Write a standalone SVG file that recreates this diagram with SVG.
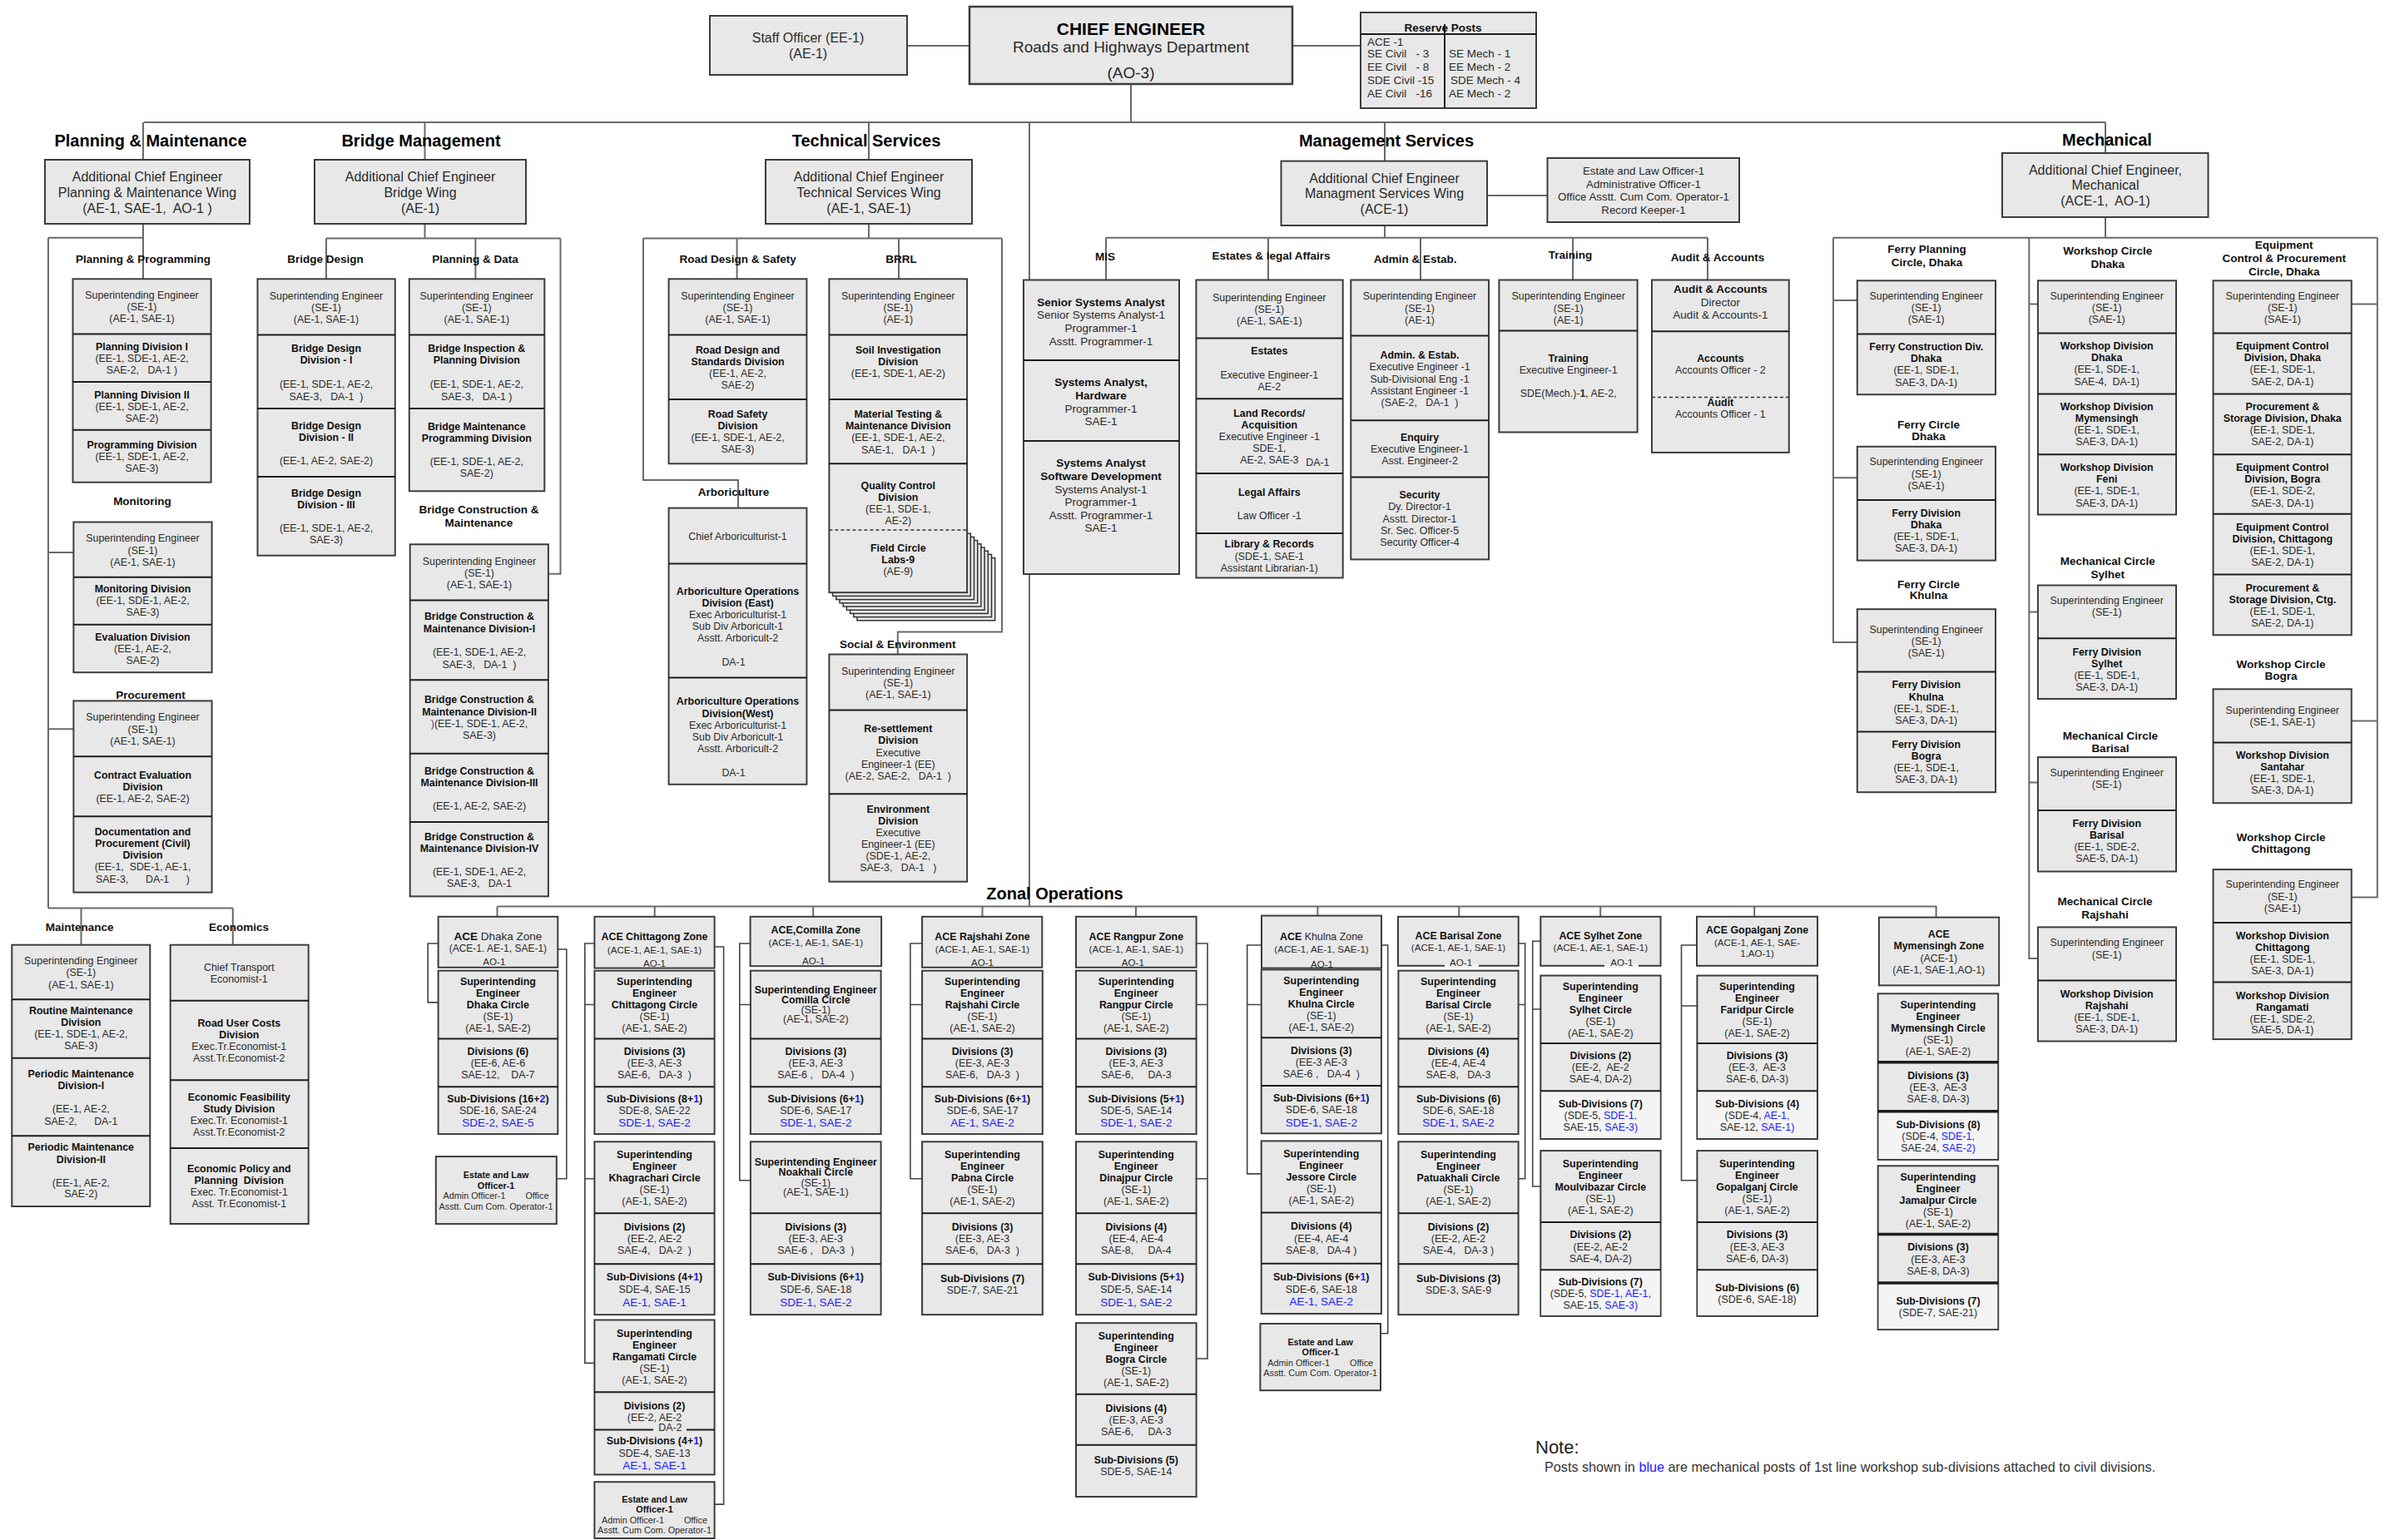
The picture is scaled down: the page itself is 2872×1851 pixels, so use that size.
<svg xmlns="http://www.w3.org/2000/svg" width="2872" height="1851" viewBox="0 0 2872 1851" xml:space="preserve">
<style>
text{font-family:"Liberation Sans",Arial,sans-serif;text-anchor:middle;dominant-baseline:central;fill:#2a2a2a;white-space:pre}
.r{font-size:12.4px}
.b{font-size:12.4px;font-weight:bold;fill:#111}
.h{font-size:13.5px;font-weight:bold;fill:#111}
.T{font-size:20px;font-weight:bold;fill:#000}
.a{font-size:16px}
.m{font-size:13.5px}
.mb{font-size:13.5px;font-weight:bold;fill:#111}
.s{font-size:10.8px}
.sb{font-size:10.8px;font-weight:bold;fill:#111}
.z{font-size:11.6px}
.u{font-size:13.5px;fill:#1a1aff}
.ub{fill:#1a1aff}
.st{text-anchor:start}
.bx{fill:#e8e8e8;stroke:#3c3c3c;stroke-width:2}
.sh{fill:#e8e8e8;stroke:#333;stroke-width:1.5}
.lt{fill:#f4f4f4}
.dv{stroke:#1c1c1c;stroke-width:2;fill:none}
.dk{stroke:#1c1c1c;stroke-width:3.5;fill:none}
.dd{stroke:#333;stroke-width:1.5;stroke-dasharray:4 3;fill:none}
.c{fill:none;stroke:#6a6a6a;stroke-width:2}
.c2{fill:none;stroke:#444;stroke-width:1.6}
</style>
<rect width="2872" height="1851" fill="#fff"/>
<g id="connectors">
<path class="c" d="M1090,55H1165M1553,55H1635M1359,101V147M173,147H2530M172,147V192M510.5,147V192M1044,147V192M1664,147V193.6M2530,147V184M1237,147V1089.6M172,269V335.3M58,285.7H172M58,285.7V1091.5M58,664H88.4M58,876.3H88.4M58,1091.5H279.8M97.5,1091.5V1135.7M279.8,1091.5V1135.7M510.5,269V286.5M392,286.5H673.5M392,286.5V335.3M571.4,286.5V335.3M673.5,286.5V689.7H658.9M1044,269V286.5M773,286.5H1204M885.6,286.5V335.3M1080,286.5V335.3M773,286.5V577H887V610.6M1204,286.5V759.4H1078.8V786.5M1664,271V285.7M1329,285.7H2052M1329,285.7V336.5M1524,285.7V336.5M1707,285.7V336.5M1890,285.7V336.5M2052,285.7V336.5M1787,235H1859.5M2530,261V285.7M2203,285.7H2856.8M2203,285.7V772H2231.8M2203,360.9H2231.8M2203,574.2H2231.8M2438.3,285.7V1152.1H2448.9M2438.3,365.6H2448.9M2438.3,735.4H2448.9M2438.3,940.4H2448.9M2856.8,285.7V1078.6H2825.7M2825.7,365.6H2856.8M2825.7,866.4H2856.8M597.5,1089.6H2326.6V1102.6M597.5,1089.6V1101.8M786.7,1089.6V1101.8M977.2,1089.6V1101.8M1180.5,1089.6V1101.8M1365,1089.6V1101.8M1583.4,1089.6V1100.6M1753.3,1089.6V1101.8M1923.2,1089.6V1101.8M2108.2,1089.6V1101.8"/>
<path class="c2" d="M526.6,1134H514.2V1204.9H526.6M670.3,1141H680.8V1416.7H668.8M714.4,1134H702.8V1638.4H714.4M702.8,1207.5H714.4M702.8,1416.7H714.4M858.6,1138H869.6V1808.1H858.6M901.6,1134H888.8V1418.8H901.9M888.8,1207.5H901.9M1108.1,1134H1093.9V1416.7H1108.1M1093.9,1207.5H1108.1M1437.6,1134H1451V1633H1437.6M1437.6,1207.5H1451M1437.6,1416.7H1451M1516,1136H1498.7V1410.9H1515.7M1498.7,1207.5H1515.7M1659.9,1136H1667.7V1602.7H1659M1824.7,1134H1832.6V1416.7H1824.6M1824.6,1207.5H1832.6M1851.3,1131.3H1841.7V1426H1851.3M1841.7,1213H1851.3M2039,1136H2020.5V1418.8H2039.4M2020.5,1209H2039.4"/>
</g>
<g id="titles">
<text class="T" x="181" y="169">Planning &amp; Maintenance</text>
<text class="T" x="506" y="169">Bridge Management</text>
<text class="T" x="1041" y="169">Technical Services</text>
<text class="T" x="1666" y="169">Management Services</text>
<text class="T" x="2532" y="168">Mechanical</text>
<text class="T" x="1267.5" y="1074">Zonal Operations</text>
<text class="h" x="172" y="311">Planning &amp; Programming</text>
<text class="h" x="171" y="602">Monitoring</text>
<text class="h" x="181" y="835">Procurement</text>
<text class="h" x="95.7" y="1114.4">Maintenance</text>
<text class="h" x="286.9" y="1114.4">Economics</text>
<text class="h" x="391" y="311">Bridge Design</text>
<text class="h" x="571" y="311">Planning &amp; Data</text>
<text class="h" x="575.5" y="612.2">Bridge Construction &amp;</text>
<text class="h" x="575.5" y="628.3">Maintenance</text>
<text class="h" x="886.7" y="311">Road Design &amp; Safety</text>
<text class="h" x="1083" y="311">BRRL</text>
<text class="h" x="881.5" y="591">Arboriculture</text>
<text class="h" x="1078.8" y="774.3">Social &amp; Environment</text>
<text class="h" x="1328" y="308">MIS</text>
<text class="h" x="1527.6" y="307">Estates &amp; legal Affairs</text>
<text class="h" x="1700.6" y="311">Admin &amp; Estab.</text>
<text class="h" x="1887" y="306">Training</text>
<text class="h" x="2064" y="309">Audit &amp; Accounts</text>
<text class="h" x="2315.6" y="299.9">Ferry Planning</text>
<text class="h" x="2315.6" y="315.6">Circle, Dhaka</text>
<text class="h" x="2532.7" y="301.9">Workshop Circle</text>
<text class="h" x="2532.7" y="317.2">Dhaka</text>
<text class="h" x="2744.7" y="294.8">Equipment</text>
<text class="h" x="2744.7" y="310.5">Control &amp; Procurement</text>
<text class="h" x="2744.7" y="326.3">Circle, Dhaka</text>
<text class="h" x="2317.5" y="510.4">Ferry Circle</text>
<text class="h" x="2317.5" y="524.2">Dhaka</text>
<text class="h" x="2317.5" y="702.3">Ferry Circle</text>
<text class="h" x="2317.5" y="715.3">Khulna</text>
<text class="h" x="2532.7" y="674.4">Mechanical Circle</text>
<text class="h" x="2532.7" y="690.1">Sylhet</text>
<text class="h" x="2535.9" y="884.1">Mechanical Circle</text>
<text class="h" x="2535.9" y="899.5">Barisal</text>
<text class="h" x="2529.5" y="1083.3">Mechanical Circle</text>
<text class="h" x="2529.5" y="1099.4">Rajshahi</text>
<text class="h" x="2741" y="798.3">Workshop Circle</text>
<text class="h" x="2741" y="812.5">Bogra</text>
<text class="h" x="2741" y="1006.5">Workshop Circle</text>
<text class="h" x="2741" y="1020.7">Chittagong</text>
</g>
<g id="staff-officer"><rect class="bx" x="853" y="19" width="237" height="71"/>
<text class="a" x="971" y="45">Staff Officer (EE-1)</text>
<text class="a" x="971" y="64">(AE-1)</text></g>
<g id="chief-engineer"><rect class="bx" x="1165" y="8" width="388" height="93" style="stroke-width:2.5"/>
<text x="1359" y="34" style="font-size:21px;font-weight:bold;fill:#000">CHIEF ENGINEER</text>
<text x="1359" y="56" style="font-size:19px">Roads and Highways Department</text>
<text x="1359" y="87" style="font-size:19px">(AO-3)</text></g>
<g id="reserve-posts"><rect class="bx" x="1635" y="15" width="211" height="115"/>
<path class="dv" d="M1635,41H1846M1736,29V130"/>
<text class="mb" x="1734" y="33.5">Reserve Posts</text>
<text class="m st" x="1643" y="50">ACE -1</text>
<text class="m st" x="1643" y="64">SE Civil   - 3</text>
<text class="m st" x="1643" y="80">EE Civil   - 8</text>
<text class="m st" x="1643" y="96">SDE Civil -15</text>
<text class="m st" x="1643" y="112">AE Civil   -16</text>
<text class="m st" x="1741" y="64">SE Mech - 1</text>
<text class="m st" x="1741" y="80">EE Mech - 2</text>
<text class="m st" x="1743" y="96">SDE Mech - 4</text>
<text class="m st" x="1741" y="112">AE Mech - 2</text></g>
<g id="ace-planning-maintenance"><rect class="bx" x="54" y="192" width="246" height="77"/>
<text class="a" x="177" y="212.5">Additional Chief Engineer</text>
<text class="a" x="177" y="231">Planning &amp; Maintenance Wing</text>
<text class="a" x="177" y="250">(AE-1, SAE-1,  AO-1 )</text></g>
<g id="ace-bridge"><rect class="bx" x="378" y="192" width="254" height="77"/>
<text class="a" x="505" y="212.5">Additional Chief Engineer</text>
<text class="a" x="505" y="231">Bridge Wing</text>
<text class="a" x="505" y="250">(AE-1)</text></g>
<g id="ace-technical"><rect class="bx" x="920" y="192" width="248" height="77"/>
<text class="a" x="1044" y="212.5">Additional Chief Engineer</text>
<text class="a" x="1044" y="231">Technical Services Wing</text>
<text class="a" x="1044" y="250">(AE-1, SAE-1)</text></g>
<g id="ace-management"><rect class="bx" x="1539.5" y="193.6" width="247.5" height="77.4"/>
<text class="a" x="1663.5" y="214.5">Additional Chief Engineer</text>
<text class="a" x="1663.5" y="232">Managment Services Wing</text>
<text class="a" x="1663.5" y="251">(ACE-1)</text></g>
<g id="mgmt-estate-law"><rect class="bx" x="1859.5" y="190" width="230.5" height="77"/>
<text x="1975" y="205" style="font-size:13.3px">Estate and Law Officer-1</text>
<text x="1975" y="221" style="font-size:13.3px">Administrative Officer-1</text>
<text x="1975" y="236.5" style="font-size:13.3px">Office Asstt. Cum Com. Operator-1</text>
<text x="1975" y="252" style="font-size:13.3px">Record Keeper-1</text></g>
<g id="ace-mechanical"><rect class="bx" x="2406" y="184" width="247.5" height="77"/>
<text class="a" x="2530" y="204.6">Additional Chief Engineer,</text>
<text class="a" x="2530" y="222">Mechanical</text>
<text class="a" x="2530" y="241">(ACE-1,  AO-1)</text></g>
<g id="pm-planning-programming"><rect class="bx" x="87.5" y="335.3" width="166.1" height="244.4"/>
<path class="dv" d="M87.5,401.4H253.6M87.5,459H253.6M87.5,516.7H253.6"/>
<text class="r" x="170.5" y="355">Superintending Engineer</text>
<text class="r" x="170.5" y="369">(SE-1)</text>
<text class="r" x="170.5" y="383">(AE-1, SAE-1)</text>
<text class="b" x="170.5" y="417">Planning Division I</text>
<text class="r" x="170.5" y="431">(EE-1, SDE-1, AE-2,</text>
<text class="r" x="170.5" y="445">SAE-2,   DA-1 )</text>
<text class="b" x="170.5" y="474.6">Planning Division II</text>
<text class="r" x="170.5" y="488.8">(EE-1, SDE-1, AE-2,</text>
<text class="r" x="170.5" y="503">SAE-2)</text>
<text class="b" x="170.5" y="534.8">Programming Division</text>
<text class="r" x="170.5" y="549">(EE-1, SDE-1, AE-2,</text>
<text class="r" x="170.5" y="562.8">SAE-3)</text></g>
<g id="pm-monitoring"><rect class="bx" x="88.4" y="627.5" width="166.2" height="180.7"/>
<path class="dv" d="M88.4,693.7H254.6M88.4,750.7H254.6"/>
<text class="r" x="171.5" y="646.8">Superintending Engineer</text>
<text class="r" x="171.5" y="661.8">(SE-1)</text>
<text class="r" x="171.5" y="676">(AE-1, SAE-1)</text>
<text class="b" x="171.5" y="707.8">Monitoring Division</text>
<text class="r" x="171.5" y="722">(EE-1, SDE-1, AE-2,</text>
<text class="r" x="171.5" y="735.8">SAE-3)</text>
<text class="b" x="171.5" y="765.7">Evaluation Division</text>
<text class="r" x="171.5" y="779.8">(EE-1, AE-2,</text>
<text class="r" x="171.5" y="793.6">SAE-2)</text></g>
<g id="pm-procurement"><rect class="bx" x="88.4" y="842.4" width="166.2" height="230.2"/>
<path class="dv" d="M88.4,909.3H254.6M88.4,981.3H254.6"/>
<text class="r" x="171.5" y="861.7">Superintending Engineer</text>
<text class="r" x="171.5" y="876.7">(SE-1)</text>
<text class="r" x="171.5" y="891.2">(AE-1, SAE-1)</text>
<text class="b" x="171.5" y="931.8">Contract Evaluation</text>
<text class="b" x="171.5" y="946">Division</text>
<text class="r" x="171.5" y="959.7">(EE-1, AE-2, SAE-2)</text>
<text class="b" x="171.5" y="999.8">Documentation and</text>
<text class="b" x="171.5" y="1014">Procurement (Civil)</text>
<text class="b" x="171.5" y="1027.8">Division</text>
<text class="r" x="171.5" y="1042">(EE-1,  SDE-1, AE-1,</text>
<text class="r" x="171.5" y="1056.5">SAE-3,      DA-1      )</text></g>
<g id="pm-maintenance"><rect class="bx" x="14.3" y="1135.7" width="166" height="314.3"/>
<path class="dv" d="M14.3,1201.3H180.3M14.3,1271.7H180.3M14.3,1365.3H180.3"/>
<text class="r" x="97.3" y="1154.7">Superintending Engineer</text>
<text class="r" x="97.3" y="1169">(SE-1)</text>
<text class="r" x="97.3" y="1183.7">(AE-1, SAE-1)</text>
<text class="b" x="97.3" y="1214.7">Routine Maintenance</text>
<text class="b" x="97.3" y="1228.7">Division</text>
<text class="r" x="97.3" y="1243">(EE-1, SDE-1, AE-2,</text>
<text class="r" x="97.3" y="1256.7">SAE-3)</text>
<text class="b" x="97.3" y="1290.7">Periodic Maintenance</text>
<text class="b" x="97.3" y="1304.7">Division-I</text>
<text class="r" x="97.3" y="1332.7">(EE-1, AE-2,</text>
<text class="r" x="97.3" y="1348.3">SAE-2,      DA-1</text>
<text class="b" x="97.3" y="1379.3">Periodic Maintenance</text>
<text class="b" x="97.3" y="1393.7">Division-II</text>
<text class="r" x="97.3" y="1421.7">(EE-1, AE-2,</text>
<text class="r" x="97.3" y="1435.3">SAE-2)</text></g>
<g id="pm-economics"><rect class="bx" x="204.7" y="1135.7" width="166" height="335.3"/>
<path class="dv" d="M204.7,1202.7H370.7M204.7,1298.3H370.7M204.7,1380H370.7"/>
<text class="r" x="287.3" y="1162.7">Chief Transport</text>
<text class="r" x="287.3" y="1176.7">Economist-1</text>
<text class="b" x="287.3" y="1230">Road User Costs</text>
<text class="b" x="287.3" y="1243.7">Division</text>
<text class="r" x="287.3" y="1257.7">Exec.Tr.Economist-1</text>
<text class="r" x="287.3" y="1272">Asst.Tr.Economist-2</text>
<text class="b" x="287.3" y="1318.7">Economic Feasibility</text>
<text class="b" x="287.3" y="1332.7">Study Division</text>
<text class="r" x="287.3" y="1347">Exec.Tr. Economist-1</text>
<text class="r" x="287.3" y="1360.7">Asst.Tr.Economist-2</text>
<text class="b" x="287.3" y="1404.7">Economic Policy and</text>
<text class="b" x="287.3" y="1418.7">Planning  Division</text>
<text class="r" x="287.3" y="1433">Exec. Tr.Economist-1</text>
<text class="r" x="287.3" y="1447">Asst. Tr.Economist-1</text></g>
<g id="bridge-design"><rect class="bx" x="309.5" y="335.3" width="165.3" height="332.4"/>
<path class="dv" d="M309.5,402.6H474.8M309.5,491.1H474.8M309.5,573H474.8"/>
<text class="r" x="392" y="355.8">Superintending Engineer</text>
<text class="r" x="392" y="370">(SE-1)</text>
<text class="r" x="392" y="383.7">(AE-1, SAE-1)</text>
<text class="b" x="392" y="418.7">Bridge Design</text>
<text class="b" x="392" y="432.9">Division - I</text>
<text class="r" x="392" y="462">(EE-1, SDE-1, AE-2,</text>
<text class="r" x="392" y="476.6">SAE-3,   DA-1  )</text>
<text class="b" x="392" y="512">Bridge Design</text>
<text class="b" x="392" y="525.8">Division - II</text>
<text class="r" x="392" y="554">(EE-1, AE-2, SAE-2)</text>
<text class="b" x="392" y="592.7">Bridge Design</text>
<text class="b" x="392" y="606.5">Division - III</text>
<text class="r" x="392" y="635">(EE-1, SDE-1, AE-2,</text>
<text class="r" x="392" y="648.8">SAE-3)</text></g>
<g id="bridge-planning-data"><rect class="bx" x="491.8" y="335.3" width="162.5" height="255"/>
<path class="dv" d="M491.8,402.6H654.3M491.8,491.1H654.3"/>
<text class="r" x="572.8" y="355.8">Superintending Engineer</text>
<text class="r" x="572.8" y="370">(SE-1)</text>
<text class="r" x="572.8" y="383.7">(AE-1, SAE-1)</text>
<text class="b" x="572.8" y="418.7">Bridge Inspection &amp;</text>
<text class="b" x="572.8" y="432.9">Planning Division</text>
<text class="r" x="572.8" y="462">(EE-1, SDE-1, AE-2,</text>
<text class="r" x="572.8" y="476.6">SAE-3,   DA-1 )</text>
<text class="b" x="572.8" y="512.8">Bridge Maintenance</text>
<text class="b" x="572.8" y="527">Programming Division</text>
<text class="r" x="572.8" y="555.3">(EE-1, SDE-1, AE-2,</text>
<text class="r" x="572.8" y="568.7">SAE-2)</text></g>
<g id="bridge-construction"><rect class="bx" x="492.7" y="654.3" width="166.2" height="423.1"/>
<path class="dv" d="M492.7,721.6H658.9M492.7,817.2H658.9M492.7,905.8H658.9M492.7,988H658.9"/>
<text class="r" x="576" y="674.8">Superintending Engineer</text>
<text class="r" x="576" y="689">(SE-1)</text>
<text class="r" x="576" y="703">(AE-1, SAE-1)</text>
<text class="b" x="576" y="740.9">Bridge Construction &amp;</text>
<text class="b" x="576" y="755.8">Maintenance Division-I</text>
<text class="r" x="576" y="783.8">(EE-1, SDE-1, AE-2,</text>
<text class="r" x="576" y="798.7">SAE-3,   DA-1  )</text>
<text class="b" x="576" y="840.9">Bridge Construction &amp;</text>
<text class="b" x="576" y="855.8">Maintenance Division-II</text>
<text class="r" x="576" y="870"><tspan fill="#7a2a9a">)</tspan>(EE-1, SDE-1, AE-2,</text>
<text class="r" x="576" y="883.7">SAE-3)</text>
<text class="b" x="576" y="926.6">Bridge Construction &amp;</text>
<text class="b" x="576" y="940.8">Maintenance Division-III</text>
<text class="r" x="576" y="969.1">(EE-1, AE-2, SAE-2)</text>
<text class="b" x="576" y="1005.7">Bridge Construction &amp;</text>
<text class="b" x="576" y="1019.9">Maintenance Division-IV</text>
<text class="r" x="576" y="1047.9">(EE-1, SDE-1, AE-2,</text>
<text class="r" x="576" y="1062.4">SAE-3,   DA-1</text></g>
<g id="tech-road-design"><rect class="bx" x="803.6" y="335.3" width="165.8" height="222"/>
<path class="dv" d="M803.6,402.6H969.4M803.6,480.1H969.4"/>
<text class="r" x="886.5" y="355.8">Superintending Engineer</text>
<text class="r" x="886.5" y="370">(SE-1)</text>
<text class="r" x="886.5" y="383.7">(AE-1, SAE-1)</text>
<text class="b" x="886.5" y="420.7">Road Design and</text>
<text class="b" x="886.5" y="434.9">Standards Division</text>
<text class="r" x="886.5" y="449">(EE-1, AE-2,</text>
<text class="r" x="886.5" y="462.8">SAE-2)</text>
<text class="b" x="886.5" y="497.8">Road Safety</text>
<text class="b" x="886.5" y="512">Division</text>
<text class="r" x="886.5" y="526.2">(EE-1, SDE-1, AE-2,</text>
<text class="r" x="886.5" y="540">SAE-3)</text></g>
<g id="tech-brrl">
<rect class="sh" x="1030" y="670.6" width="165.7" height="75.2"/>
<rect class="sh" x="1025.8" y="666.4" width="165.7" height="75.2"/>
<rect class="sh" x="1021.6" y="662.2" width="165.7" height="75.2"/>
<rect class="sh" x="1017.4" y="658" width="165.7" height="75.2"/>
<rect class="sh" x="1013.2" y="653.8" width="165.7" height="75.2"/>
<rect class="sh" x="1009" y="649.6" width="165.7" height="75.2"/>
<rect class="sh" x="1004.8" y="645.4" width="165.7" height="75.2"/>
<rect class="sh" x="1000.6" y="641.2" width="165.7" height="75.2"/>
<rect class="bx" x="996.4" y="335.3" width="165.7" height="376.9"/>
<path class="dv" d="M996.4,402.6H1162.1M996.4,480.1H1162.1M996.4,557.3H1162.1"/>
<path class="dd" d="M996.4,637H1162.1"/>
<text class="r" x="1079.3" y="355.8">Superintending Engineer</text>
<text class="r" x="1079.3" y="370">(SE-1)</text>
<text class="r" x="1079.3" y="383.7">(AE-1)</text>
<text class="b" x="1079.3" y="420.7">Soil Investigation</text>
<text class="b" x="1079.3" y="434.9">Division</text>
<text class="r" x="1079.3" y="449">(EE-1, SDE-1, AE-2)</text>
<text class="b" x="1079.3" y="497.8">Material Testing &amp;</text>
<text class="b" x="1079.3" y="512">Maintenance Division</text>
<text class="r" x="1079.3" y="526.2">(EE-1, SDE-1, AE-2,</text>
<text class="r" x="1079.3" y="540.7">SAE-1,   DA-1  )</text>
<text class="b" x="1079.3" y="583.6">Quality Control</text>
<text class="b" x="1079.3" y="597.8">Division</text>
<text class="r" x="1079.3" y="612">(EE-1, SDE-1,</text>
<text class="r" x="1079.3" y="626">AE-2)</text>
<text class="b" x="1079.3" y="658.6">Field Circle</text>
<text class="b" x="1079.3" y="672.8">Labs-9</text>
<text class="r" x="1079.3" y="687">(AE-9)</text></g>
<g id="tech-arboriculture"><rect class="bx" x="803.6" y="610.6" width="165.8" height="332.2"/>
<path class="dv" d="M803.6,677.5H969.4M803.6,814.5H969.4"/>
<text class="r" x="886.5" y="644.5">Chief Arboriculturist-1</text>
<text class="b" x="886.5" y="710.6">Arboriculture Operations</text>
<text class="b" x="886.5" y="724.8">Division (East)</text>
<text class="r" x="886.5" y="738.9">Exec Arboriculturist-1</text>
<text class="r" x="886.5" y="752.7">Sub Div Arboricult-1</text>
<text class="r" x="886.5" y="766.9">Asstt. Arboricult-2</text>
<text class="r" x="881.5" y="795.6">DA-1</text>
<text class="b" x="886.5" y="842.8">Arboriculture Operations</text>
<text class="b" x="886.5" y="857.8">Division(West)</text>
<text class="r" x="886.5" y="871.5">Exec Arboriculturist-1</text>
<text class="r" x="886.5" y="885.7">Sub Div Arboricult-1</text>
<text class="r" x="886.5" y="899.9">Asstt. Arboricult-2</text>
<text class="r" x="881.5" y="928.6">DA-1</text></g>
<g id="tech-social-environment"><rect class="bx" x="996.4" y="786.5" width="165.7" height="273.2"/>
<path class="dv" d="M996.4,853.4H1162.1M996.4,954.2H1162.1"/>
<text class="r" x="1079.3" y="806.6">Superintending Engineer</text>
<text class="r" x="1079.3" y="820.8">(SE-1)</text>
<text class="r" x="1079.3" y="835">(AE-1, SAE-1)</text>
<text class="b" x="1079.3" y="875.5">Re-settlement</text>
<text class="b" x="1079.3" y="889.7">Division</text>
<text class="r" x="1079.3" y="904.6">Executive</text>
<text class="r" x="1079.3" y="918.8">Engineer-1 (EE)</text>
<text class="r" x="1079.3" y="933">(AE-2, SAE-2,   DA-1  )</text>
<text class="b" x="1079.3" y="972.7">Environment</text>
<text class="b" x="1079.3" y="986.9">Division</text>
<text class="r" x="1079.3" y="1000.6">Executive</text>
<text class="r" x="1079.3" y="1014.8">Engineer-1 (EE)</text>
<text class="r" x="1079.3" y="1029">(SDE-1, AE-2,</text>
<text class="r" x="1079.3" y="1043.1">SAE-3,   DA-1   )</text></g>
<g id="mis"><rect class="bx" x="1230" y="336.5" width="187" height="353.5"/>
<path class="dv" d="M1230,433H1417M1230,530H1417"/>
<text class="mb" x="1323" y="363">Senior Systems Analyst</text>
<text class="m" x="1323" y="378.6">Senior Systems Analyst-1</text>
<text class="m" x="1323" y="394">Programmer-1</text>
<text class="m" x="1323" y="410.5">Asstt. Programmer-1</text>
<text class="mb" x="1323" y="459">Systems Analyst,</text>
<text class="mb" x="1323" y="475">Hardware</text>
<text class="m" x="1323" y="491">Programmer-1</text>
<text class="m" x="1323" y="506.5">SAE-1</text>
<text class="mb" x="1323" y="556.5">Systems Analyst</text>
<text class="mb" x="1323" y="572">Software Development</text>
<text class="m" x="1323" y="588">Systems Analyst-1</text>
<text class="m" x="1323" y="603">Programmer-1</text>
<text class="m" x="1323" y="619">Asstt. Programmer-1</text>
<text class="m" x="1323" y="634.6">SAE-1</text></g>
<g id="mgmt-estates-legal"><rect class="bx" x="1437.4" y="336.5" width="176.3" height="358"/>
<path class="dv" d="M1437.4,406.5H1613.7M1437.4,479.3H1613.7M1437.4,569H1613.7M1437.4,641H1613.7"/>
<text class="r" x="1525.3" y="358.1">Superintending Engineer</text>
<text class="r" x="1525.3" y="371.9">(SE-1)</text>
<text class="r" x="1525.3" y="386">(AE-1, SAE-1)</text>
<text class="b" x="1525.3" y="421.9">Estates</text>
<text class="r" x="1525.3" y="451">Executive Engineer-1</text>
<text class="r" x="1525.3" y="465.2">AE-2</text>
<text class="b" x="1525.3" y="497">Land Records/</text>
<text class="b" x="1525.3" y="511.2">Acquisition</text>
<text class="r" x="1525.3" y="525">Executive Engineer -1</text>
<text class="r" x="1525.3" y="539.2">SDE-1,</text>
<text class="r" x="1525.3" y="553.3">AE-2, SAE-3</text>
<text class="r" x="1583.4" y="555.7">DA-1</text>
<text class="b" x="1525.3" y="591.9">Legal Affairs</text>
<text class="r" x="1525.3" y="619.7">Law Officer -1</text>
<text class="b" x="1525.3" y="653.9">Library &amp; Records</text>
<text class="r" x="1525.3" y="668.9">(SDE-1, SAE-1</text>
<text class="r" x="1525.3" y="683">Assistant Librarian-1)</text></g>
<g id="mgmt-admin-estab"><rect class="bx" x="1623.3" y="336.5" width="165.7" height="335.9"/>
<path class="dv" d="M1623.3,403.4H1789M1623.3,505.3H1789M1623.3,573.4H1789"/>
<text class="r" x="1706" y="355.8">Superintending Engineer</text>
<text class="r" x="1706" y="371.1">(SE-1)</text>
<text class="r" x="1706" y="385.3">(AE-1)</text>
<text class="b" x="1706" y="426.6">Admin. &amp; Estab.</text>
<text class="r" x="1706" y="440.8">Executive Engineer -1</text>
<text class="r" x="1706" y="455.7">Sub-Divisional Eng -1</text>
<text class="r" x="1706" y="469.9">Assistant Engineer -1</text>
<text class="r" x="1706" y="484">(SAE-2,   DA-1  )</text>
<text class="b" x="1706" y="525.8">Enquiry</text>
<text class="r" x="1706" y="540">Executive Engineer-1</text>
<text class="r" x="1706" y="554.1">Asst. Engineer-2</text>
<text class="b" x="1706" y="594.6">Security</text>
<text class="r" x="1706" y="609">Dy. Director-1</text>
<text class="r" x="1706" y="624">Asstt. Director-1</text>
<text class="r" x="1706" y="637.8">Sr. Sec. Officer-5</text>
<text class="r" x="1706" y="652">Security Officer-4</text></g>
<g id="mgmt-training"><rect class="bx" x="1801.4" y="336.5" width="166.2" height="183"/>
<path class="dv" d="M1801.4,397.5H1967.6"/>
<text class="r" x="1884.7" y="355.8">Superintending Engineer</text>
<text class="r" x="1884.7" y="371.1">(SE-1)</text>
<text class="r" x="1884.7" y="385.3">(AE-1)</text>
<text class="b" x="1884.7" y="431">Training</text>
<text class="r" x="1884.7" y="445.1">Executive Engineer-1</text>
<text class="r" x="1884.7" y="472.6">SDE(Mech.)-<tspan font-weight="bold">1</tspan>, AE-2,</text></g>
<g id="mgmt-audit-accounts"><rect class="bx" x="1985" y="336.5" width="164.8" height="207.4"/>
<path class="dv" d="M1985,398.3H2149.8"/>
<path class="dd" d="M1985,477.4H2149.8"/>
<text class="mb" x="2067.4" y="347.5">Audit &amp; Accounts</text>
<text class="m" x="2067.4" y="363.6">Director</text>
<text class="m" x="2067.4" y="378.6">Audit &amp; Accounts-1</text>
<text class="b" x="2067.4" y="431">Accounts</text>
<text class="r" x="2067.4" y="445.1">Accounts Officer - 2</text>
<text class="b" x="2067.4" y="483.7">Audit</text>
<text class="r" x="2067.4" y="497.8">Accounts Officer - 1</text></g>
<g id="mech-ferry-planning"><rect class="bx" x="2231.8" y="337.3" width="166.2" height="136.9"/>
<path class="dv" d="M2231.8,401.4H2398"/>
<text class="r" x="2314.7" y="355.8">Superintending Engineer</text>
<text class="r" x="2314.7" y="370">(SE-1)</text>
<text class="r" x="2314.7" y="383.7">(SAE-1)</text>
<text class="b" x="2314.7" y="416.8">Ferry Construction Div.</text>
<text class="b" x="2314.7" y="430.9">Dhaka</text>
<text class="r" x="2314.7" y="445.1">(EE-1, SDE-1,</text>
<text class="r" x="2314.7" y="459.7">SAE-3, DA-1)</text></g>
<g id="mech-ferry-dhaka"><rect class="bx" x="2231.8" y="536.8" width="166.2" height="136.8"/>
<path class="dv" d="M2231.8,601H2398"/>
<text class="r" x="2314.7" y="554.9">Superintending Engineer</text>
<text class="r" x="2314.7" y="569.9">(SE-1)</text>
<text class="r" x="2314.7" y="583.6">(SAE-1)</text>
<text class="b" x="2314.7" y="616.5">Ferry Division</text>
<text class="b" x="2314.7" y="630.7">Dhaka</text>
<text class="r" x="2314.7" y="644.9">(EE-1, SDE-1,</text>
<text class="r" x="2314.7" y="659">SAE-3, DA-1)</text></g>
<g id="mech-ferry-khulna"><rect class="bx" x="2231.8" y="732.2" width="166.2" height="220"/>
<path class="dv" d="M2231.8,807.4H2398M2231.8,879.4H2398"/>
<text class="r" x="2314.7" y="756.6">Superintending Engineer</text>
<text class="r" x="2314.7" y="770.8">(SE-1)</text>
<text class="r" x="2314.7" y="785">(SAE-1)</text>
<text class="b" x="2314.7" y="823.1">Ferry Division</text>
<text class="b" x="2314.7" y="837.7">Khulna</text>
<text class="r" x="2314.7" y="851.9">(EE-1, SDE-1,</text>
<text class="r" x="2314.7" y="866">SAE-3, DA-1)</text>
<text class="b" x="2314.7" y="894.8">Ferry Division</text>
<text class="b" x="2314.7" y="908.9">Bogra</text>
<text class="r" x="2314.7" y="923.1">(EE-1, SDE-1,</text>
<text class="r" x="2314.7" y="937.3">SAE-3, DA-1)</text></g>
<g id="mech-workshop-dhaka"><rect class="bx" x="2448.9" y="337.3" width="166.1" height="281.2"/>
<path class="dv" d="M2448.9,400.6H2615M2448.9,473.4H2615M2448.9,546.2H2615"/>
<text class="r" x="2531.7" y="355.8">Superintending Engineer</text>
<text class="r" x="2531.7" y="370">(SE-1)</text>
<text class="r" x="2531.7" y="383.7">(SAE-1)</text>
<text class="b" x="2531.7" y="416">Workshop Division</text>
<text class="b" x="2531.7" y="429.8">Dhaka</text>
<text class="r" x="2531.7" y="443.9">(EE-1, SDE-1,</text>
<text class="r" x="2531.7" y="458.5">SAE-4,  DA-1)</text>
<text class="b" x="2531.7" y="488.8">Workshop Division</text>
<text class="b" x="2531.7" y="503">Mymensingh</text>
<text class="r" x="2531.7" y="516.7">(EE-1, SDE-1,</text>
<text class="r" x="2531.7" y="530.9">SAE-3, DA-1)</text>
<text class="b" x="2531.7" y="561.6">Workshop Division</text>
<text class="b" x="2531.7" y="575.8">Feni</text>
<text class="r" x="2531.7" y="590">(EE-1, SDE-1,</text>
<text class="r" x="2531.7" y="604.5">SAE-3, DA-1)</text></g>
<g id="mech-circle-sylhet"><rect class="bx" x="2448.9" y="703.5" width="166.1" height="136.5"/>
<path class="dv" d="M2448.9,767.3H2615"/>
<text class="r" x="2531.7" y="722">Superintending Engineer</text>
<text class="r" x="2531.7" y="736.2">(SE-1)</text>
<text class="b" x="2531.7" y="783.8">Ferry Division</text>
<text class="b" x="2531.7" y="798">Sylhet</text>
<text class="r" x="2531.7" y="812.1">(EE-1, SDE-1,</text>
<text class="r" x="2531.7" y="826.3">SAE-3, DA-1)</text></g>
<g id="mech-circle-barisal"><rect class="bx" x="2448.9" y="910.1" width="166.1" height="137.4"/>
<path class="dv" d="M2448.9,973.9H2615"/>
<text class="r" x="2531.7" y="928.6">Superintending Engineer</text>
<text class="r" x="2531.7" y="943.2">(SE-1)</text>
<text class="b" x="2531.7" y="989.6">Ferry Division</text>
<text class="b" x="2531.7" y="1003.8">Barisal</text>
<text class="r" x="2531.7" y="1017.9">(EE-1, SDE-2,</text>
<text class="r" x="2531.7" y="1032.1">SAE-5, DA-1)</text></g>
<g id="mech-circle-rajshahi"><rect class="bx" x="2448.9" y="1114.4" width="166.1" height="137.1"/>
<path class="dv" d="M2448.9,1178.5H2615"/>
<text class="r" x="2531.7" y="1133.3">Superintending Engineer</text>
<text class="r" x="2531.7" y="1148.2">(SE-1)</text>
<text class="b" x="2531.7" y="1195">Workshop Division</text>
<text class="b" x="2531.7" y="1209">Rajshahi</text>
<text class="r" x="2531.7" y="1222.8">(EE-1, SDE-1,</text>
<text class="r" x="2531.7" y="1236.9">SAE-3, DA-1)</text></g>
<g id="mech-equipment"><rect class="bx" x="2659.5" y="337.3" width="166.2" height="426"/>
<path class="dv" d="M2659.5,400.6H2825.7M2659.5,473.4H2825.7M2659.5,546.2H2825.7M2659.5,617.7H2825.7M2659.5,690.5H2825.7"/>
<text class="r" x="2742.8" y="355.8">Superintending Engineer</text>
<text class="r" x="2742.8" y="370">(SE-1)</text>
<text class="r" x="2742.8" y="383.7">(SAE-1)</text>
<text class="b" x="2742.8" y="416">Equipment Control</text>
<text class="b" x="2742.8" y="429.8">Division, Dhaka</text>
<text class="r" x="2742.8" y="443.9">(EE-1, SDE-1,</text>
<text class="r" x="2742.8" y="458.5">SAE-2, DA-1)</text>
<text class="b" x="2742.8" y="488.8">Procurement &amp;</text>
<text class="b" x="2742.8" y="503">Storage Division, Dhaka</text>
<text class="r" x="2742.8" y="516.7">(EE-1, SDE-1,</text>
<text class="r" x="2742.8" y="530.9">SAE-2, DA-1)</text>
<text class="b" x="2742.8" y="561.6">Equipment Control</text>
<text class="b" x="2742.8" y="575.8">Division, Bogra</text>
<text class="r" x="2742.8" y="590">(EE-1, SDE-2,</text>
<text class="r" x="2742.8" y="604.5">SAE-3, DA-1)</text>
<text class="b" x="2742.8" y="633.8">Equipment Control</text>
<text class="b" x="2742.8" y="647.6">Division, Chittagong</text>
<text class="r" x="2742.8" y="661.8">(EE-1, SDE-1,</text>
<text class="r" x="2742.8" y="675.6">SAE-2, DA-1)</text>
<text class="b" x="2742.8" y="706.7">Procurement &amp;</text>
<text class="b" x="2742.8" y="720.8">Storage Division, Ctg.</text>
<text class="r" x="2742.8" y="735">(EE-1, SDE-1,</text>
<text class="r" x="2742.8" y="748.8">SAE-2, DA-1)</text></g>
<g id="mech-workshop-bogra"><rect class="bx" x="2659.5" y="828.3" width="166.2" height="136.9"/>
<path class="dv" d="M2659.5,892.4H2825.7"/>
<text class="r" x="2742.8" y="853.8">Superintending Engineer</text>
<text class="r" x="2742.8" y="868">(SE-1, SAE-1)</text>
<text class="b" x="2742.8" y="907.8">Workshop Division</text>
<text class="b" x="2742.8" y="921.5">Santahar</text>
<text class="r" x="2742.8" y="935.7">(EE-1, SDE-1,</text>
<text class="r" x="2742.8" y="949.9">SAE-3, DA-1)</text></g>
<g id="mech-workshop-chittagong"><rect class="bx" x="2659.5" y="1045.1" width="166.2" height="204"/>
<path class="dv" d="M2659.5,1108.9H2825.7M2659.5,1180.5H2825.7"/>
<text class="r" x="2742.8" y="1063.2">Superintending Engineer</text>
<text class="r" x="2742.8" y="1077.8">(SE-1)</text>
<text class="r" x="2742.8" y="1091.5">(SAE-1)</text>
<text class="b" x="2742.8" y="1124.6">Workshop Division</text>
<text class="b" x="2742.8" y="1138.8">Chittagong</text>
<text class="r" x="2742.8" y="1152.9">(EE-1, SDE-1,</text>
<text class="r" x="2742.8" y="1166.7">SAE-3, DA-1)</text>
<text class="b" x="2742.8" y="1196.6">Workshop Division</text>
<text class="b" x="2742.8" y="1210.8">Rangamati</text>
<text class="r" x="2742.8" y="1224.5">(EE-1, SDE-2,</text>
<text class="r" x="2742.8" y="1238">SAE-5, DA-1)</text></g>
<g id="zone-dhaka">
<rect class="bx" x="526.6" y="1101.8" width="143.7" height="61"/>
<text class="m" x="598.4" y="1125.4"><tspan font-weight="bold" fill="#111">ACE</tspan> Dhaka Zone</text>
<text x="598.4" y="1140.3" style="font-size:12px">(ACE-1. AE-1, SAE-1)</text>
<text class="z" x="593.9" y="1155.7">AO-1</text>
<rect class="bx" x="526.6" y="1166.7" width="143.7" height="196.4"/>
<path class="dv" d="M526.6,1248.6H670.3M526.6,1306.3H670.3"/>
<text class="b" x="598.4" y="1179.7">Superintending</text>
<text class="b" x="598.4" y="1193.9">Engineer</text>
<text class="b" x="598.4" y="1207.6">Dhaka Circle</text>
<text class="r" x="598.4" y="1221.6">(SE-1)</text>
<text class="r" x="598.4" y="1235.7">(AE-1, SAE-2)</text>
<text class="b" x="598.4" y="1263.9">Divisions (6)</text>
<text class="r" x="598.4" y="1278">(EE-6, AE-6</text>
<text class="r" x="598.4" y="1292.2">SAE-12,    DA-7</text>
<text class="b" x="598.4" y="1320.8">Sub-Divisions (16+<tspan class="ub">2</tspan>)</text>
<text class="r" x="598.4" y="1334.9">SDE-16, SAE-24</text>
<text class="u" x="598.4" y="1349.4">SDE-2, SAE-5</text>
</g>
<g id="dhaka-estate-law"><rect class="bx" x="523.8" y="1390.1" width="145" height="81"/>
<text class="sb" x="596" y="1412.1">Estate and Law</text>
<text class="sb" x="596" y="1425.4">Officer-1</text>
<text class="s" x="596" y="1437">Admin Officer-1        Office</text>
<text class="s" x="596" y="1450.3">Asstt. Cum Com. Operator-1</text></g>
<g id="zone-chittagong">
<rect class="bx" x="714.4" y="1101.8" width="144.2" height="61.8"/>
<text class="b" x="786.5" y="1125.8">ACE Chittagong Zone</text>
<text class="z" x="786.5" y="1141.1">(ACE-1, AE-1, SAE-1)</text>
<text class="z" x="786.5" y="1157.3">AO-1</text>
<rect class="bx" x="714.4" y="1166.7" width="144.2" height="196.4"/>
<path class="dv" d="M714.4,1248.6H858.6M714.4,1306.3H858.6"/>
<text class="b" x="786.5" y="1179.7">Superintending</text>
<text class="b" x="786.5" y="1193.9">Engineer</text>
<text class="b" x="786.5" y="1207.6">Chittagong Circle</text>
<text class="r" x="786.5" y="1221.6">(SE-1)</text>
<text class="r" x="786.5" y="1235.7">(AE-1, SAE-2)</text>
<text class="b" x="786.5" y="1263.9">Divisions (3)</text>
<text class="r" x="786.5" y="1278">(EE-3, AE-3</text>
<text class="r" x="786.5" y="1292.2">SAE-6,   DA-3  )</text>
<text class="b" x="786.5" y="1320.8">Sub-Divisions (8+<tspan class="ub">1</tspan>)</text>
<text class="r" x="786.5" y="1334.9">SDE-8, SAE-22</text>
<text class="u" x="786.5" y="1349.4">SDE-1, SAE-2</text>
</g>
<g id="circle-khagrachari"><rect class="bx" x="714.4" y="1372.3" width="144.2" height="207.9"/>
<path class="dv" d="M714.4,1458.2H858.6M714.4,1519.2H858.6"/>
<text class="b" x="786.5" y="1387.6">Superintending</text>
<text class="b" x="786.5" y="1401.7">Engineer</text>
<text class="b" x="786.5" y="1415.9">Khagrachari Circle</text>
<text class="r" x="786.5" y="1429.6">(SE-1)</text>
<text class="r" x="786.5" y="1443.7">(AE-1, SAE-2)</text>
<text class="b" x="786.5" y="1474.8">Divisions (2)</text>
<text class="r" x="786.5" y="1489.3">(EE-2, AE-2</text>
<text class="r" x="786.5" y="1503.4">SAE-4,   DA-2  )</text>
<text class="b" x="786.5" y="1535.4">Sub-Divisions (4+<tspan class="ub">1</tspan>)</text>
<text class="r" x="786.5" y="1550.3">SDE-4, SAE-15</text>
<text class="u" x="786.5" y="1565.3">AE-1, SAE-1</text></g>
<g id="circle-rangamati"><rect class="bx" x="714.4" y="1586.5" width="144.2" height="185.9"/>
<path class="dv" d="M714.4,1673.2H858.6M714.4,1718.5H785M825,1718.5H858.6"/>
<text class="b" x="786.5" y="1602.7">Superintending</text>
<text class="b" x="786.5" y="1616.8">Engineer</text>
<text class="b" x="786.5" y="1630.5">Rangamati Circle</text>
<text class="r" x="786.5" y="1644.6">(SE-1)</text>
<text class="r" x="786.5" y="1658.7">(AE-1, SAE-2)</text>
<text class="b" x="786.5" y="1689.8">Divisions (2)</text>
<text class="r" x="786.5" y="1704">(EE-2, AE-2</text>
<text class="r" x="805.4" y="1715.6">DA-2</text>
<text class="b" x="786.5" y="1731.8">Sub-Divisions (4+<tspan class="ub">1</tspan>)</text>
<text class="r" x="786.5" y="1746.7">SDE-4, SAE-13</text>
<text class="u" x="786.5" y="1761.2">AE-1, SAE-1</text></g>
<g id="chittagong-estate-law"><rect class="bx" x="714.4" y="1781.2" width="144.2" height="67.8"/>
<text class="sb" x="786.5" y="1801.9">Estate and Law</text>
<text class="sb" x="786.5" y="1814">Officer-1</text>
<text class="s" x="786.5" y="1826.8">Admin Officer-1        Office</text>
<text class="s" x="786.5" y="1838.8">Asstt. Cum Com. Operator-1</text></g>
<g id="zone-comilla">
<rect class="bx" x="901.6" y="1101.8" width="157.5" height="59.4"/>
<text class="b" x="980.3" y="1117.9">ACE,Comilla Zone</text>
<text class="z" x="980.3" y="1132">(ACE-1, AE-1, SAE-1)</text>
<text class="z" x="977.6" y="1154.1">AO-1</text>
<rect class="bx" x="901.9" y="1166.7" width="156.7" height="196.4"/>
<path class="dv" d="M901.9,1248.6H1058.6M901.9,1306.3H1058.6"/>
<text class="b" x="980.3" y="1190.3">Superintending Engineer</text>
<text class="b" x="980.3" y="1202.1">Comilla Circle</text>
<text class="r" x="980.3" y="1213.7">(SE-1)</text>
<text class="r" x="980.3" y="1224.9">(AE-1, SAE-2)</text>
<text class="b" x="980.3" y="1263.9">Divisions (3)</text>
<text class="r" x="980.3" y="1278">(EE-3, AE-3</text>
<text class="r" x="980.3" y="1292.2">SAE-6 ,   DA-4  )</text>
<text class="b" x="980.3" y="1320.8">Sub-Divisions (6+<tspan class="ub">1</tspan>)</text>
<text class="r" x="980.3" y="1334.9">SDE-6, SAE-17</text>
<text class="u" x="980.3" y="1349.4">SDE-1, SAE-2</text>
</g>
<g id="circle-noakhali"><rect class="bx" x="901.9" y="1372.3" width="156.7" height="207.9"/>
<path class="dv" d="M901.9,1458.2H1058.6M901.9,1519.2H1058.6"/>
<text class="b" x="980.3" y="1396.8">Superintending Engineer</text>
<text class="b" x="980.3" y="1408.8">Noakhali Circle</text>
<text class="r" x="980.3" y="1422.1">(SE-1)</text>
<text class="r" x="980.3" y="1432.9">(AE-1, SAE-1)</text>
<text class="b" x="980.3" y="1474.8">Divisions (3)</text>
<text class="r" x="980.3" y="1489.3">(EE-3, AE-3</text>
<text class="r" x="980.3" y="1503.4">SAE-6 ,   DA-3  )</text>
<text class="b" x="980.3" y="1535.4">Sub-Divisions (6+<tspan class="ub">1</tspan>)</text>
<text class="r" x="980.3" y="1550.3">SDE-6, SAE-18</text>
<text class="u" x="980.3" y="1565.3">SDE-1, SAE-2</text></g>
<g id="zone-rajshahi">
<rect class="bx" x="1108.1" y="1101.8" width="144.2" height="61"/>
<text class="b" x="1180.5" y="1125.8">ACE Rajshahi Zone</text>
<text class="z" x="1180.5" y="1140">(ACE-1, AE-1, SAE-1)</text>
<text class="z" x="1180.5" y="1156.9">AO-1</text>
<rect class="bx" x="1108.1" y="1166.7" width="144.7" height="196.4"/>
<path class="dv" d="M1108.1,1248.6H1252.8M1108.1,1306.3H1252.8"/>
<text class="b" x="1180.5" y="1179.7">Superintending</text>
<text class="b" x="1180.5" y="1193.9">Engineer</text>
<text class="b" x="1180.5" y="1207.6">Rajshahi Circle</text>
<text class="r" x="1180.5" y="1221.6">(SE-1)</text>
<text class="r" x="1180.5" y="1235.7">(AE-1, SAE-2)</text>
<text class="b" x="1180.5" y="1263.9">Divisions (3)</text>
<text class="r" x="1180.5" y="1278">(EE-3, AE-3</text>
<text class="r" x="1180.5" y="1292.2">SAE-6,   DA-3  )</text>
<text class="b" x="1180.5" y="1320.8">Sub-Divisions (6+<tspan class="ub">1</tspan>)</text>
<text class="r" x="1180.5" y="1334.9">SDE-6, SAE-17</text>
<text class="u" x="1180.5" y="1349.4">AE-1, SAE-2</text>
</g>
<g id="circle-pabna"><rect class="bx" x="1108.1" y="1372.3" width="144.7" height="207.9"/>
<path class="dv" d="M1108.1,1458.2H1252.8M1108.1,1519.2H1252.8"/>
<text class="b" x="1180.5" y="1387.6">Superintending</text>
<text class="b" x="1180.5" y="1401.7">Engineer</text>
<text class="b" x="1180.5" y="1415.9">Pabna Circle</text>
<text class="r" x="1180.5" y="1429.6">(SE-1)</text>
<text class="r" x="1180.5" y="1443.7">(AE-1, SAE-2)</text>
<text class="b" x="1180.5" y="1474.8">Divisions (3)</text>
<text class="r" x="1180.5" y="1489.3">(EE-3, AE-3</text>
<text class="r" x="1180.5" y="1503.4">SAE-6,   DA-3  )</text>
<text class="b" x="1180.5" y="1536.7">Sub-Divisions (7)</text>
<text class="r" x="1180.5" y="1550.8">SDE-7, SAE-21</text></g>
<g id="zone-rangpur">
<rect class="bx" x="1293" y="1101.8" width="144.6" height="61"/>
<text class="b" x="1365.3" y="1125.8">ACE Rangpur Zone</text>
<text class="z" x="1365.3" y="1140">(ACE-1, AE-1, SAE-1)</text>
<text class="z" x="1361.3" y="1156.9">AO-1</text>
<rect class="bx" x="1293" y="1166.7" width="144.6" height="196.4"/>
<path class="dv" d="M1293,1248.6H1437.6M1293,1306.3H1437.6"/>
<text class="b" x="1365.3" y="1179.7">Superintending</text>
<text class="b" x="1365.3" y="1193.9">Engineer</text>
<text class="b" x="1365.3" y="1207.6">Rangpur Circle</text>
<text class="r" x="1365.3" y="1221.6">(SE-1)</text>
<text class="r" x="1365.3" y="1235.7">(AE-1, SAE-2)</text>
<text class="b" x="1365.3" y="1263.9">Divisions (3)</text>
<text class="r" x="1365.3" y="1278">(EE-3, AE-3</text>
<text class="r" x="1365.3" y="1292.2">SAE-6,     DA-3</text>
<text class="b" x="1365.3" y="1320.8">Sub-Divisions (5+<tspan class="ub">1</tspan>)</text>
<text class="r" x="1365.3" y="1334.9">SDE-5, SAE-14</text>
<text class="u" x="1365.3" y="1349.4">SDE-1, SAE-2</text>
</g>
<g id="circle-dinajpur"><rect class="bx" x="1293" y="1372.3" width="144.6" height="207.9"/>
<path class="dv" d="M1293,1458.2H1437.6M1293,1519.2H1437.6"/>
<text class="b" x="1365.3" y="1387.6">Superintending</text>
<text class="b" x="1365.3" y="1401.7">Engineer</text>
<text class="b" x="1365.3" y="1415.9">Dinajpur Circle</text>
<text class="r" x="1365.3" y="1429.6">(SE-1)</text>
<text class="r" x="1365.3" y="1443.7">(AE-1, SAE-2)</text>
<text class="b" x="1365.3" y="1474.8">Divisions (4)</text>
<text class="r" x="1365.3" y="1489.3">(EE-4, AE-4</text>
<text class="r" x="1365.3" y="1503.4">SAE-8,     DA-4</text>
<text class="b" x="1365.3" y="1535.4">Sub-Divisions (5+<tspan class="ub">1</tspan>)</text>
<text class="r" x="1365.3" y="1550.3">SDE-5, SAE-14</text>
<text class="u" x="1365.3" y="1565.3">SDE-1, SAE-2</text></g>
<g id="circle-bogra"><rect class="bx" x="1293" y="1590.2" width="144.6" height="208.8"/>
<path class="dv" d="M1293,1675.7H1437.6M1293,1736.7H1437.6"/>
<text class="b" x="1365.3" y="1606">Superintending</text>
<text class="b" x="1365.3" y="1619.7">Engineer</text>
<text class="b" x="1365.3" y="1633.8">Bogra Circle</text>
<text class="r" x="1365.3" y="1647.9">(SE-1)</text>
<text class="r" x="1365.3" y="1661.6">(AE-1, SAE-2)</text>
<text class="b" x="1365.3" y="1692.7">Divisions (4)</text>
<text class="r" x="1365.3" y="1706.8">(EE-3, AE-3</text>
<text class="r" x="1365.3" y="1721">SAE-6,     DA-3</text>
<text class="b" x="1365.3" y="1754.6">Sub-Divisions (5)</text>
<text class="r" x="1365.3" y="1768.7">SDE-5, SAE-14</text></g>
<g id="zone-khulna">
<rect class="bx" x="1516" y="1100.6" width="144" height="63"/>
<text class="b" x="1588" y="1125.8">ACE <tspan font-weight="normal" fill="#2a2a2a">Khulna Zone</tspan></text>
<text class="z" x="1588" y="1140">(ACE-1, AE-1, SAE-1)</text>
<text class="z" x="1588.5" y="1158.8">AO-1</text>
<rect class="bx" x="1515.7" y="1165.5" width="144.2" height="196.8"/>
<path class="dv" d="M1515.7,1247.3H1659.9M1515.7,1305H1659.9"/>
<text class="b" x="1587.8" y="1178.5">Superintending</text>
<text class="b" x="1587.8" y="1192.7">Engineer</text>
<text class="b" x="1587.8" y="1206.8">Khulna Circle</text>
<text class="r" x="1587.8" y="1220.8">(SE-1)</text>
<text class="r" x="1587.8" y="1234.9">(AE-1, SAE-2)</text>
<text class="b" x="1587.8" y="1262.7">Divisions (3)</text>
<text class="r" x="1587.8" y="1276.8">(EE-3 AE-3</text>
<text class="r" x="1587.8" y="1290.9">SAE-6 ,   DA-4  )</text>
<text class="b" x="1587.8" y="1319.6">Sub-Divisions (6+<tspan class="ub">1</tspan>)</text>
<text class="r" x="1587.8" y="1333.7">SDE-6, SAE-18</text>
<text class="u" x="1587.8" y="1349">SDE-1, SAE-2</text>
</g>
<g id="circle-jessore"><rect class="bx" x="1515.7" y="1371.4" width="144.2" height="207.6"/>
<path class="dv" d="M1515.7,1457.4H1659.9M1515.7,1518.8H1659.9"/>
<text class="b" x="1587.8" y="1386.8">Superintending</text>
<text class="b" x="1587.8" y="1400.9">Engineer</text>
<text class="b" x="1587.8" y="1414.6">Jessore Circle</text>
<text class="r" x="1587.8" y="1428.7">(SE-1)</text>
<text class="r" x="1587.8" y="1442.8">(AE-1, SAE-2)</text>
<text class="b" x="1587.8" y="1474">Divisions (4)</text>
<text class="r" x="1587.8" y="1488.5">(EE-4, AE-4</text>
<text class="r" x="1587.8" y="1502.6">SAE-8,   DA-4 )</text>
<text class="b" x="1587.8" y="1534.6">Sub-Divisions (6+<tspan class="ub">1</tspan>)</text>
<text class="r" x="1587.8" y="1549.5">SDE-6, SAE-18</text>
<text class="u" x="1587.8" y="1564">AE-1, SAE-2</text></g>
<g id="khulna-estate-law"><rect class="bx" x="1514.4" y="1591" width="144.6" height="80.2"/>
<text class="sb" x="1586.7" y="1613">Estate and Law</text>
<text class="sb" x="1586.7" y="1625.1">Officer-1</text>
<text class="s" x="1586.7" y="1637.9">Admin Officer-1        Office</text>
<text class="s" x="1586.7" y="1650.4">Asstt. Cum Com. Operator-1</text></g>
<g id="zone-barisal">
<rect class="bx" x="1680" y="1101.8" width="144.7" height="59"/>
<rect x="1736" y="1158.5" width="41" height="5" fill="#f2f2f2"/>
<text class="b" x="1752.5" y="1124.6">ACE Barisal Zone</text>
<text class="z" x="1752.5" y="1138.8">(ACE-1, AE-1, SAE-1)</text>
<text class="z" x="1755.6" y="1156.5">AO-1</text>
<rect class="bx" x="1680.4" y="1166.7" width="144.2" height="196.4"/>
<path class="dv" d="M1680.4,1248.6H1824.6M1680.4,1306.3H1824.6"/>
<text class="b" x="1752.5" y="1179.7">Superintending</text>
<text class="b" x="1752.5" y="1193.9">Engineer</text>
<text class="b" x="1752.5" y="1207.6">Barisal Circle</text>
<text class="r" x="1752.5" y="1221.6">(SE-1)</text>
<text class="r" x="1752.5" y="1235.7">(AE-1, SAE-2)</text>
<text class="b" x="1752.5" y="1263.9">Divisions (4)</text>
<text class="r" x="1752.5" y="1278">(EE-4, AE-4</text>
<text class="r" x="1752.5" y="1292.2">SAE-8,   DA-3</text>
<text class="b" x="1752.5" y="1320.8">Sub-Divisions (6)</text>
<text class="r" x="1752.5" y="1334.9">SDE-6, SAE-18</text>
<text class="u" x="1752.5" y="1349.4">SDE-1, SAE-2</text>
</g>
<g id="circle-patuakhali"><rect class="bx" x="1680.4" y="1372.3" width="144.2" height="207.9"/>
<path class="dv" d="M1680.4,1458.2H1824.6M1680.4,1519.2H1824.6"/>
<text class="b" x="1752.5" y="1387.6">Superintending</text>
<text class="b" x="1752.5" y="1401.7">Engineer</text>
<text class="b" x="1752.5" y="1415.9">Patuakhali Circle</text>
<text class="r" x="1752.5" y="1429.6">(SE-1)</text>
<text class="r" x="1752.5" y="1443.7">(AE-1, SAE-2)</text>
<text class="b" x="1752.5" y="1474.8">Divisions (2)</text>
<text class="r" x="1752.5" y="1489.3">(EE-2, AE-2</text>
<text class="r" x="1752.5" y="1503.4">SAE-4,   DA-3 )</text>
<text class="b" x="1752.5" y="1536.7">Sub-Divisions (3)</text>
<text class="r" x="1752.5" y="1550.8">SDE-3, SAE-9</text></g>
<g id="zone-sylhet">
<rect class="bx" x="1851.3" y="1101.8" width="144.2" height="59"/>
<rect x="1928" y="1158.5" width="41" height="5" fill="#f2f2f2"/>
<text class="b" x="1923.3" y="1124.6">ACE Sylhet Zone</text>
<text class="z" x="1923.3" y="1138.8">(ACE-1, AE-1, SAE-1)</text>
<text class="z" x="1948.8" y="1156.5">AO-1</text>
<rect class="bx" x="1851.3" y="1172.6" width="144.3" height="196.4"/>
<rect class="lt" x="1852.3" y="1312.2" width="142.3" height="55.8"/>
<path class="dv" d="M1851.3,1254H1995.6M1851.3,1311.2H1995.6"/>
<text class="b" x="1923.3" y="1186">Superintending</text>
<text class="b" x="1923.3" y="1200.2">Engineer</text>
<text class="b" x="1923.3" y="1213.7">Sylhet Circle</text>
<text class="r" x="1923.3" y="1227.8">(SE-1)</text>
<text class="r" x="1923.3" y="1241.9">(AE-1, SAE-2)</text>
<text class="b" x="1923.3" y="1268.5">Divisions (2)</text>
<text class="r" x="1923.3" y="1282.6">(EE-2,  AE-2</text>
<text class="r" x="1923.3" y="1296.7">SAE-4, DA-2)</text>
<text class="b" x="1923.3" y="1326.6">Sub-Divisions (7)</text>
<text class="r" x="1923.3" y="1340.7">(SDE-5, <tspan class="ub">SDE-1</tspan><tspan fill="#e02020">,</tspan></text>
<text class="r" x="1923.3" y="1354.8">SAE-15, <tspan class="ub">SAE-3)</tspan></text>
</g>
<g id="circle-moulvibazar"><rect class="bx" x="1851.3" y="1383.1" width="144.3" height="198.8"/>
<rect class="lt" x="1852.3" y="1527.3" width="142.3" height="53.6"/>
<path class="dv" d="M1851.3,1469H1995.6M1851.3,1526.3H1995.6"/>
<text class="b" x="1923.3" y="1398.8">Superintending</text>
<text class="b" x="1923.3" y="1413">Engineer</text>
<text class="b" x="1923.3" y="1426.7">Moulvibazar Circle</text>
<text class="r" x="1923.3" y="1440.8">(SE-1)</text>
<text class="r" x="1923.3" y="1454.9">(AE-1, SAE-2)</text>
<text class="b" x="1923.3" y="1483.9">Divisions (2)</text>
<text class="r" x="1923.3" y="1498.5">(EE-2, AE-2</text>
<text class="r" x="1923.3" y="1512.6">SAE-4, DA-2)</text>
<text class="b" x="1923.3" y="1540.8">Sub-Divisions (7)</text>
<text class="r" x="1923.3" y="1554.9">(SDE-5, <tspan class="ub">SDE-1, AE-1,</tspan></text>
<text class="r" x="1923.3" y="1569">SAE-15, <tspan class="ub">SAE-3)</tspan></text></g>
<g id="zone-gopalganj">
<rect class="bx" x="2039" y="1101.8" width="145" height="59"/>
<text class="b" x="2111.5" y="1117.9">ACE Gopalganj Zone</text>
<text class="z" x="2111.5" y="1132">(ACE-1, AE-1, SAE-</text>
<text class="z" x="2111.5" y="1145.8">1,AO-1)</text>
<rect class="bx" x="2039.4" y="1172.6" width="144.6" height="196.4"/>
<rect class="lt" x="2040.4" y="1312.2" width="142.6" height="55.8"/>
<path class="dv" d="M2039.4,1254H2184M2039.4,1311.2H2184"/>
<text class="b" x="2111.5" y="1186">Superintending</text>
<text class="b" x="2111.5" y="1200.2">Engineer</text>
<text class="b" x="2111.5" y="1213.7">Faridpur Circle</text>
<text class="r" x="2111.5" y="1227.8">(SE-1)</text>
<text class="r" x="2111.5" y="1241.9">(AE-1, SAE-2)</text>
<text class="b" x="2111.5" y="1268.5">Divisions (3)</text>
<text class="r" x="2111.5" y="1282.6">(EE-3,  AE-3</text>
<text class="r" x="2111.5" y="1296.7">SAE-6, DA-3)</text>
<text class="b" x="2111.5" y="1326.6">Sub-Divisions (4)</text>
<text class="r" x="2111.5" y="1340.7">(SDE-4, <tspan class="ub">AE-1,</tspan></text>
<text class="r" x="2111.5" y="1354.8">SAE-12, <tspan class="ub">SAE-1)</tspan></text>
</g>
<g id="circle-gopalganj"><rect class="bx" x="2039.4" y="1383.1" width="144.6" height="198.8"/>
<rect class="lt" x="2040.4" y="1527.3" width="142.6" height="53.6"/>
<path class="dv" d="M2039.4,1469H2184M2039.4,1526.3H2184"/>
<text class="b" x="2111.5" y="1398.8">Superintending</text>
<text class="b" x="2111.5" y="1413">Engineer</text>
<text class="b" x="2111.5" y="1426.7">Gopalganj Circle</text>
<text class="r" x="2111.5" y="1440.8">(SE-1)</text>
<text class="r" x="2111.5" y="1454.9">(AE-1, SAE-2)</text>
<text class="b" x="2111.5" y="1483.9">Divisions (3)</text>
<text class="r" x="2111.5" y="1498.5">(EE-3, AE-3</text>
<text class="r" x="2111.5" y="1512.6">SAE-6, DA-3)</text>
<text class="b" x="2111.5" y="1547.9">Sub-Divisions (6)</text>
<text class="r" x="2111.5" y="1562">(SDE-6, SAE-18)</text></g>
<g id="zone-mymensingh">
<rect class="bx" x="2257.9" y="1102.6" width="144.3" height="81.8"/>
<text class="b" x="2329.8" y="1122.6">ACE</text>
<text class="b" x="2329.8" y="1136.8">Mymensingh Zone</text>
<text class="r" x="2329.8" y="1152.1">(ACE-1)</text>
<text class="r" x="2329.8" y="1165.9">(AE-1, SAE-1,AO-1)</text>
<rect class="bx" x="2256.7" y="1194.3" width="144.5" height="199.6"/>
<rect class="lt" x="2257.7" y="1337.5" width="142.5" height="55.4"/>
<path class="dk" d="M2256.7,1276.8H2401.2M2256.7,1335.7H2401.2"/>
<text class="b" x="2329" y="1208">Superintending</text>
<text class="b" x="2329" y="1222">Engineer</text>
<text class="b" x="2329" y="1235.7">Mymensingh Circle</text>
<text class="r" x="2329" y="1249.8">(SE-1)</text>
<text class="r" x="2329" y="1263.9">(AE-1, SAE-2)</text>
<text class="b" x="2329" y="1292.6">Divisions (3)</text>
<text class="r" x="2329" y="1306.7">(EE-3,  AE-3</text>
<text class="r" x="2329" y="1320.8">SAE-8, DA-3)</text>
<text class="b" x="2329" y="1351.9">Sub-Divisions (8)</text>
<text class="r" x="2329" y="1366">(SDE-4, <tspan class="ub">SDE-1,</tspan></text>
<text class="r" x="2329" y="1379.7">SAE-24, <tspan class="ub">SAE-2)</tspan></text>
</g>
<g id="circle-jamalpur"><rect class="bx" x="2256.7" y="1401.3" width="144.5" height="196.8"/>
<rect class="lt" x="2257.7" y="1543.9" width="142.5" height="53.2"/>
<path class="dk" d="M2256.7,1483.5H2401.2M2256.7,1542.1H2401.2"/>
<text class="b" x="2329" y="1415">Superintending</text>
<text class="b" x="2329" y="1429.1">Engineer</text>
<text class="b" x="2329" y="1442.8">Jamalpur Circle</text>
<text class="r" x="2329" y="1457">(SE-1)</text>
<text class="r" x="2329" y="1471.1">(AE-1, SAE-2)</text>
<text class="b" x="2329" y="1498.9">Divisions (3)</text>
<text class="r" x="2329" y="1513.8">(EE-3, AE-3</text>
<text class="r" x="2329" y="1527.9">SAE-8, DA-3)</text>
<text class="b" x="2329" y="1563.6">Sub-Divisions (7)</text>
<text class="r" x="2329" y="1577.8">(SDE-7, SAE-21)</text></g>
<g id="note">
<text class="st" x="1845" y="1739" style="font-size:22px;fill:#222">Note:</text>
<text class="st" x="1856" y="1763" style="font-size:16.2px;fill:#333">Posts shown in <tspan class="ub">blue</tspan> are mechanical posts of 1st line workshop sub-divisions attached to civil divisions.</text>
</g>
</svg>
